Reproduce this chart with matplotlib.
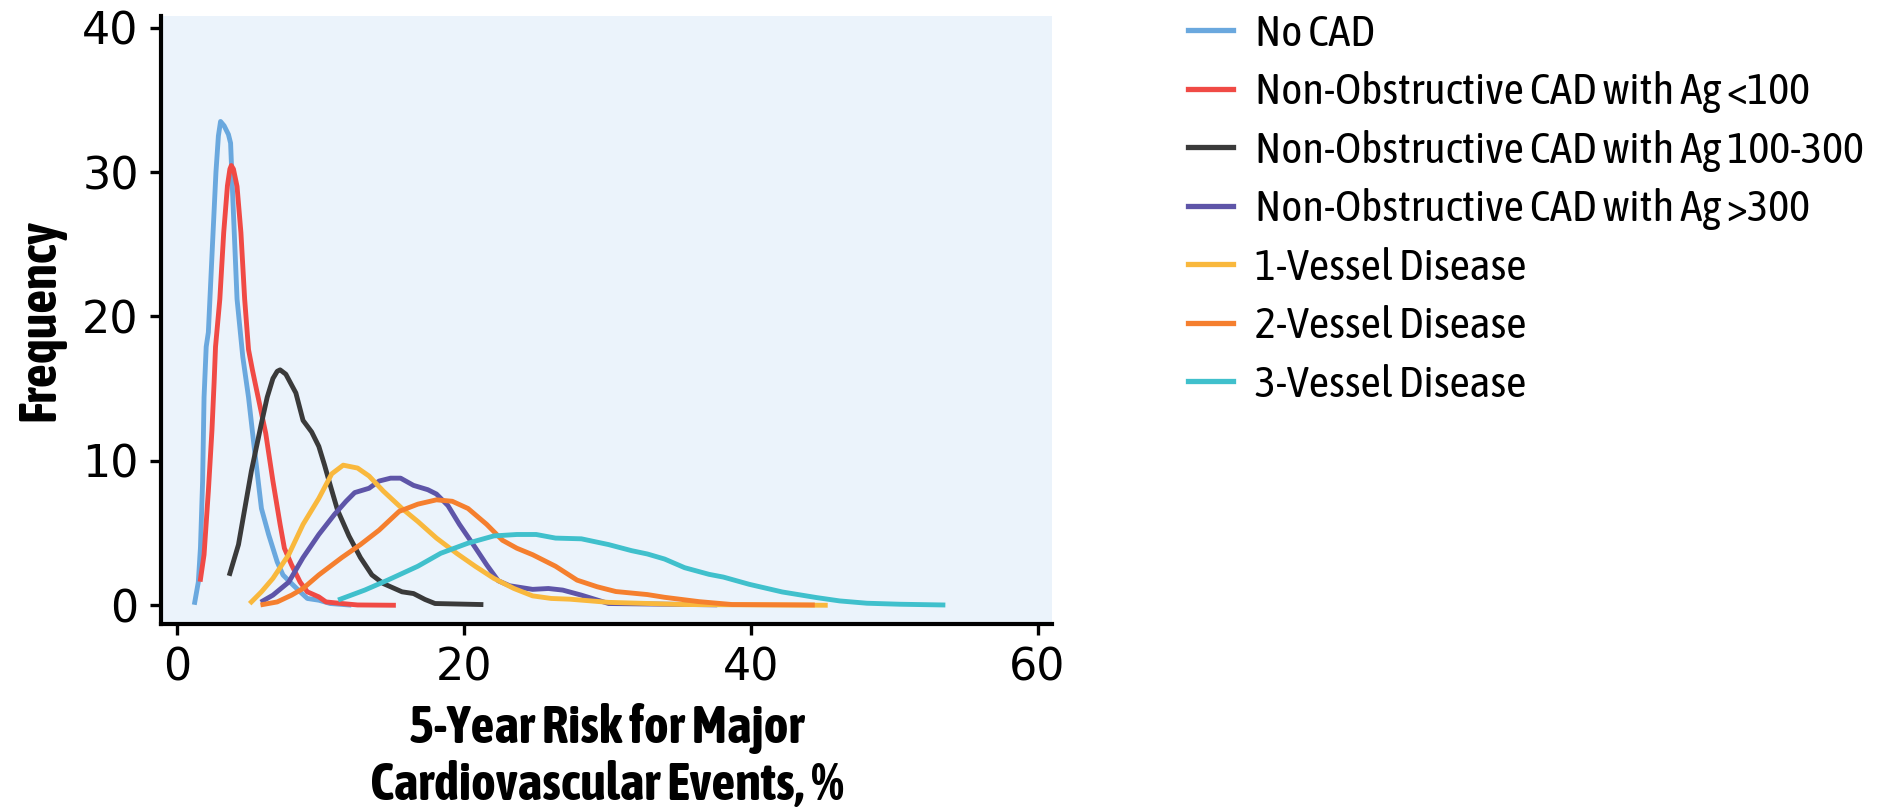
import matplotlib
matplotlib.use("Agg")
import matplotlib.pyplot as plt
from matplotlib import font_manager

# risk curves per group: x = 5-year MACE risk (%), y = frequency
no_cad_x = [1.25, 1.5, 1.65, 1.8, 1.9, 2.05, 2.2, 2.47, 2.73, 2.9, 3.05, 3.3, 3.6, 3.75, 3.9,
            4.2, 4.6, 5.0, 5.4, 5.9, 6.4, 7.0, 7.4, 8.0, 8.6, 9.1, 9.9, 10.7, 12.0]
no_cad_y = [0.2, 1.6, 4.0, 8.6, 14.4, 17.9, 18.9, 24.6, 30.0, 32.5, 33.5, 33.2, 32.6, 32.0, 28.3,
            21.2, 17.2, 14.4, 10.9, 6.7, 4.9, 3.0, 2.1, 1.5, 0.93, 0.47, 0.35, 0.12, 0.02]

ag_low_x = [1.65, 1.9, 2.2, 2.45, 2.6, 2.7, 3.0, 3.27, 3.53, 3.7, 3.8, 3.95, 4.2, 4.47, 4.73,
            5.0, 5.27, 5.5, 6.2, 6.7, 7.2, 7.5, 8.0, 8.6, 9.1, 9.9, 10.4, 11.5, 12.6, 15.1]
ag_low_y = [1.8, 3.5, 7.9, 12.1, 15.4, 17.9, 21.2, 25.8, 29.05, 30.2, 30.45, 30.2, 29.0, 25.8, 21.2,
            17.7, 16.3, 15.2, 11.9, 8.6, 5.6, 3.95, 2.8, 1.6, 0.93, 0.58, 0.23, 0.12, 0.02, 0.0]

ag_mid_x = [3.7, 4.3, 5.2, 5.9, 6.3, 6.7, 7.0, 7.2, 7.6, 8.3, 8.8, 9.4, 9.9, 10.3, 10.7, 11.2,
            12.0, 12.8, 13.6, 14.4, 15.7, 16.5, 17.3, 18.0, 21.2]
ag_mid_y = [2.2, 4.2, 9.3, 12.6, 14.4, 15.7, 16.2, 16.3, 16.0, 14.7, 12.8, 12.0, 11.0, 9.7, 8.3, 6.6,
            4.8, 3.3, 2.1, 1.5, 0.93, 0.81, 0.4, 0.12, 0.05]

ag_high_x = [6.0, 6.7, 7.8, 8.8, 9.9, 11.0, 11.8, 12.4, 13.4, 14.1, 14.9, 15.6, 16.5, 17.5, 18.1,
             18.9, 19.7, 20.8, 21.6, 22.4, 23.2, 24.8, 25.9, 26.9, 28.2, 30.1, 37.5]
ag_high_y = [0.3, 0.7, 1.6, 3.3, 4.9, 6.3, 7.2, 7.8, 8.1, 8.6, 8.8, 8.8, 8.3, 8.0, 7.7,
             6.9, 5.6, 4.0, 2.8, 1.7, 1.35, 1.1, 1.16, 1.05, 0.7, 0.12, 0.03]

one_vd_x = [5.2, 5.9, 6.7, 7.8, 8.8, 9.9, 10.8, 11.6, 12.6, 13.4, 14.4, 15.7, 16.8, 18.1, 19.5,
            20.8, 22.1, 23.5, 24.8, 26.1, 27.4, 30.1, 35.4, 45.2]
one_vd_y = [0.23, 0.93, 1.86, 3.5, 5.6, 7.4, 9.1, 9.7, 9.5, 8.95, 7.9, 6.7, 5.8, 4.65, 3.6,
            2.7, 1.86, 1.16, 0.65, 0.47, 0.42, 0.2, 0.05, 0.0]

two_vd_x = [6.0, 7.0, 8.0, 8.8, 9.9, 11.5, 12.8, 14.1, 15.5, 16.8, 18.1, 19.2, 20.3, 21.6, 22.7,
            23.7, 24.8, 26.4, 27.9, 29.3, 30.6, 32.8, 34.0, 36.4, 38.7, 44.3]
two_vd_y = [0.05, 0.23, 0.7, 1.16, 2.1, 3.3, 4.2, 5.2, 6.5, 7.0, 7.3, 7.2, 6.7, 5.6, 4.5,
            3.95, 3.5, 2.7, 1.74, 1.28, 0.95, 0.74, 0.55, 0.25, 0.05, 0.02]

three_vd_x = [11.4, 13.1, 14.7, 16.8, 18.4, 20.3, 22.1, 23.7, 25.05, 26.4, 28.2, 30.1, 31.7, 32.8,
              34.0, 35.4, 37.1, 38.1, 39.9, 42.2, 44.6, 46.2, 48.1, 50.4, 53.4]
three_vd_y = [0.42, 1.05, 1.74, 2.7, 3.6, 4.3, 4.8, 4.9, 4.9, 4.65, 4.6, 4.2, 3.78, 3.55,
              3.2, 2.6, 2.14, 1.95, 1.45, 0.92, 0.53, 0.3, 0.14, 0.07, 0.02]

labels = ["No CAD", "Non-Obstructive CAD with Ag <100", "Non-Obstructive CAD with Ag 100-300",
          "Non-Obstructive CAD with Ag >300", "1-Vessel Disease", "2-Vessel Disease",
          "3-Vessel Disease"]
colors = ["#6aa8de", "#f04a45", "#3a3a3a", "#5e55a8", "#f9b83d", "#f57f2e", "#40c0cc"]

series = [(no_cad_x, no_cad_y), (ag_low_x, ag_low_y), (ag_mid_x, ag_mid_y),
          (ag_high_x, ag_high_y), (one_vd_x, one_vd_y), (two_vd_x, two_vd_y),
          (three_vd_x, three_vd_y)]


def weight_num(w):
    if isinstance(w, (int, float)):
        return int(w)
    return font_manager.weight_dict.get(str(w), 400)


# pick a condensed family that also ships a bold face
weights = {}
for f in font_manager.fontManager.ttflist:
    if "Narrow" in f.name or "Condensed" in f.name or f.stretch in ("condensed", "semi-condensed"):
        weights.setdefault(f.name, set()).add(weight_num(f.weight))
with_bold = sorted(n for n, ws in weights.items() if max(ws) >= 600 and min(ws) <= 500)
narrow = with_bold[0] if with_bold else (sorted(weights)[0] if weights else "DejaVu Sans")
plt.rcParams["font.family"] = [narrow, "DejaVu Sans"]
if narrow == "DejaVu Sans":
    plt.rcParams["font.stretch"] = "condensed"

fig = plt.figure(figsize=(18.92, 8.10), dpi=100)
ax = fig.add_axes([0.0851, 0.2296, 0.4709, 0.7506])
ax.set_facecolor("#ebf3fb")

for (xs, ys), lab, col in zip(series, labels, colors):
    ax.plot(xs, ys, color=col, lw=3.5, label=lab, solid_joinstyle="round")

ax.set_xlim(-1.1, 61)
ax.set_ylim(-1.3, 40.8)
ax.set_xticks([0, 20, 40, 60])
ax.set_yticks([0, 10, 20, 30, 40])

for side in ["top", "right"]:
    ax.spines[side].set_visible(False)
for side in ["left", "bottom"]:
    ax.spines[side].set_linewidth(3.0)
ax.tick_params(axis="both", length=8, width=2.4, pad=8)
for t in ax.get_xticklabels() + ax.get_yticklabels():
    t.set_family(["DejaVu Sans"])
    t.set_fontstretch("normal")
    t.set_fontsize(32)

ax.set_ylabel("Frequency", fontsize=38, fontweight="bold", labelpad=12)
ax.set_xlabel("5-Year Risk for Major\nCardiovascular Events, %", fontsize=38,
              fontweight="bold", labelpad=10, linespacing=1.15)

leg = fig.legend(loc="upper left", bbox_to_anchor=(0.628, 0.984), frameon=False,
                 fontsize=32, handlelength=1.0, handletextpad=0.5, labelspacing=0.37,
                 borderpad=0, borderaxespad=0)
for h in leg.get_lines():
    h.set_linewidth(3.8)

fig.savefig("out.png", dpi=100, facecolor="white")
